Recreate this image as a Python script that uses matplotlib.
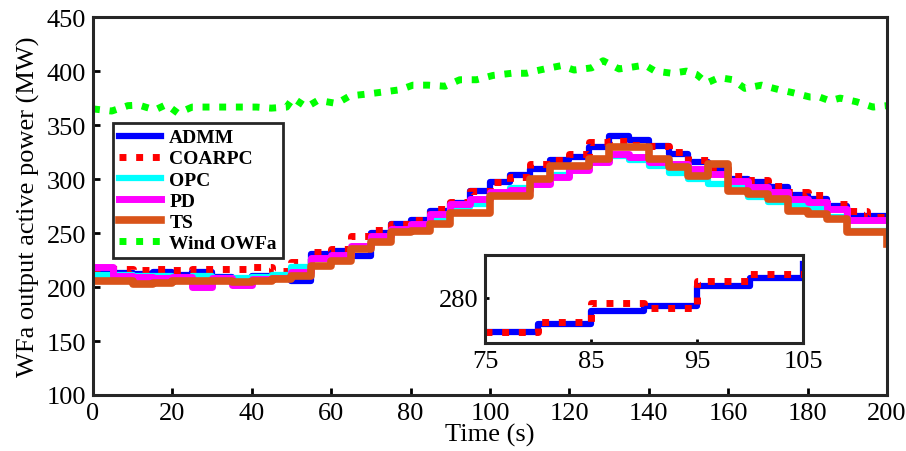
import numpy as np
import matplotlib
matplotlib.use('Agg')
import matplotlib.pyplot as plt

# step times (s), one value per 5 s interval
t_step = np.arange(0, 200, 5)

admm = [213.6, 213, 212.5, 213.6, 211, 213.6, 209, 207, 210, 209,
        205.8, 230.5, 233, 229, 250, 258, 262, 270, 278, 289,
        297, 304, 309, 318, 320, 330, 340, 336, 331, 323,
        316, 309, 300, 297, 293, 285, 282, 275, 266, 266]
coarpc = [216.7, 216.7, 216, 216.7, 216, 216.7, 217, 217, 218.5, 215,
          223, 232, 235, 247, 253, 258, 262, 272, 279, 289,
          297, 302, 314, 318, 323, 334, 335, 332, 331, 325,
          318, 310, 303, 299, 294, 288, 285, 277, 270, 265]
opc = [211, 211, 210, 210, 208.5, 210, 208.5, 208, 209, 211,
       218.5, 226, 228, 236, 245, 252, 257, 261, 274, 277,
       285, 292, 300, 304, 310, 318, 321, 318, 312, 306,
       300, 295, 292, 283, 279, 275, 272, 265, 252, 252]
pd_ = [218.5, 210.5, 209, 208, 209, 199.7, 208, 202, 207, 208,
       213.6, 227, 230, 238, 247.5, 253.7, 258, 267.6, 277, 281.5,
       288, 290, 295, 302, 308, 316, 323, 320, 316, 314,
       309, 304.6, 298, 293, 288, 281.5, 279, 272, 262, 262]
ts = [205.8, 205.8, 202.8, 204, 205.8, 205.8, 205.8, 205, 205.8, 207.4,
      210.5, 219.7, 224, 235, 241.4, 250.6, 252, 258, 269, 269,
      284.5, 284.5, 300, 312, 312, 318.5, 329.6, 329.6, 318.5, 310.8,
      303, 314, 289, 286, 281.5, 270.6, 267.6, 263, 251, 251]
ts_end = 240

wind_t = [0, 4.7, 8.8, 11.6, 15.6, 18.5, 21.4, 25, 29.9, 34, 37.8, 41.2, 44.9,
          48.8, 50.4, 53.8, 56.7, 61.4, 64.7, 68.9, 73, 77.3, 80.6, 84.4, 88.7,
          92.4, 96.6, 100.8, 105.5, 109.2, 111.3, 113.8, 117.9, 121.2, 125.6,
          128.5, 132.5, 136.3, 139, 141.6, 145.8, 149.5, 152, 154.6, 157.7,
          161.2, 164.2, 168.4, 172.6, 176.3, 180.6, 183, 185.6, 188.2, 192.3,
          196.5, 200]
wind = [365, 363, 368, 368.5, 364, 369, 361, 366.7, 366.7, 366.7, 366.7, 366.7,
        365.7, 366.7, 375, 366.7, 373, 370, 377, 378.7, 380.6, 382.7, 387, 387,
        386, 392, 392, 396, 398, 398, 400, 402, 405, 401, 403, 409.6, 402, 404,
        405.6, 400, 398, 400, 397, 389, 394, 392, 384, 387, 383, 380, 376, 376,
        372.5, 375, 371.6, 366.7, 368]

# zoomed window
in_t = [75, 80, 85, 90, 95, 100, 105]
in_admm = [273.2, 274.8, 277.4, 278.4, 282.3, 283.9, 286.7]
in_coarpc = [273.2, 275.2, 278.9, 277.9, 283.3, 284.7, 284.7]

plt.rcParams.update({'font.family': 'Liberation Serif',
                     'font.size': 19,
                     'axes.linewidth': 2.2,
                     'axes.edgecolor': '#262626',
                     'xtick.direction': 'in',
                     'ytick.direction': 'in',
                     'xtick.major.size': 5,
                     'ytick.major.size': 5,
                     'xtick.major.width': 2,
                     'ytick.major.width': 2})

fig = plt.figure(figsize=(9.06, 4.52), dpi=100)
ax = fig.add_axes([0.1026, 0.1239, 0.8764, 0.836])


def stairs(v, last=None):
    x = np.append(t_step, 200)
    y = np.append(v, v[-1] if last is None else last)
    return x, y


dots = (0, (1, 1.4))
x, y = stairs(admm)
ax.step(x, y, where='post', color='#0000ff', lw=4.5, label='ADMM')
x, y = stairs(coarpc)
ax.step(x, y, where='post', color='#ff0000', lw=5, ls=dots, label='COARPC')
x, y = stairs(opc)
ax.step(x, y, where='post', color='#00ffff', lw=4.5, label='OPC')
x, y = stairs(pd_)
ax.step(x, y, where='post', color='#ff00ff', lw=5, label='PD')
x, y = stairs(ts, ts_end)
ax.step(x, y, where='post', color='#d95319', lw=5.5, label='TS')
ax.plot(wind_t, wind, color='#00ff00', lw=5, ls=dots, label='Wind OWFa')

ax.set_xlim(0, 200)
ax.set_ylim(100, 450)
ax.set_xticks(np.arange(0, 201, 20))
ax.set_yticks(np.arange(100, 451, 50))
ax.tick_params(pad=5)
ax.set_xlabel('Time (s)', labelpad=-1)
ax.set_ylabel('WFa output active power (MW)', labelpad=5)

leg = ax.legend(loc='upper left', bbox_to_anchor=(0.025, 0.72), fancybox=False,
                framealpha=1, edgecolor='#262626', borderaxespad=0,
                prop={'weight': 'bold', 'size': 14}, handlelength=2.2,
                handletextpad=0.4, labelspacing=0.18, borderpad=0.3)
leg.get_frame().set_linewidth(2)

axi = fig.add_axes([0.5353, 0.2389, 0.351, 0.1947])
axi.step(in_t, in_admm, where='post', color='#0000ff', lw=4.5)
axi.step(in_t, in_coarpc, where='post', color='#ff0000', lw=5, ls=dots)
axi.set_xlim(75, 105)
axi.set_ylim(271, 288.5)
axi.set_xticks([75, 85, 95, 105])
axi.set_yticks([280])
axi.tick_params(pad=5, length=3)

fig.savefig('out.png', dpi=100)
